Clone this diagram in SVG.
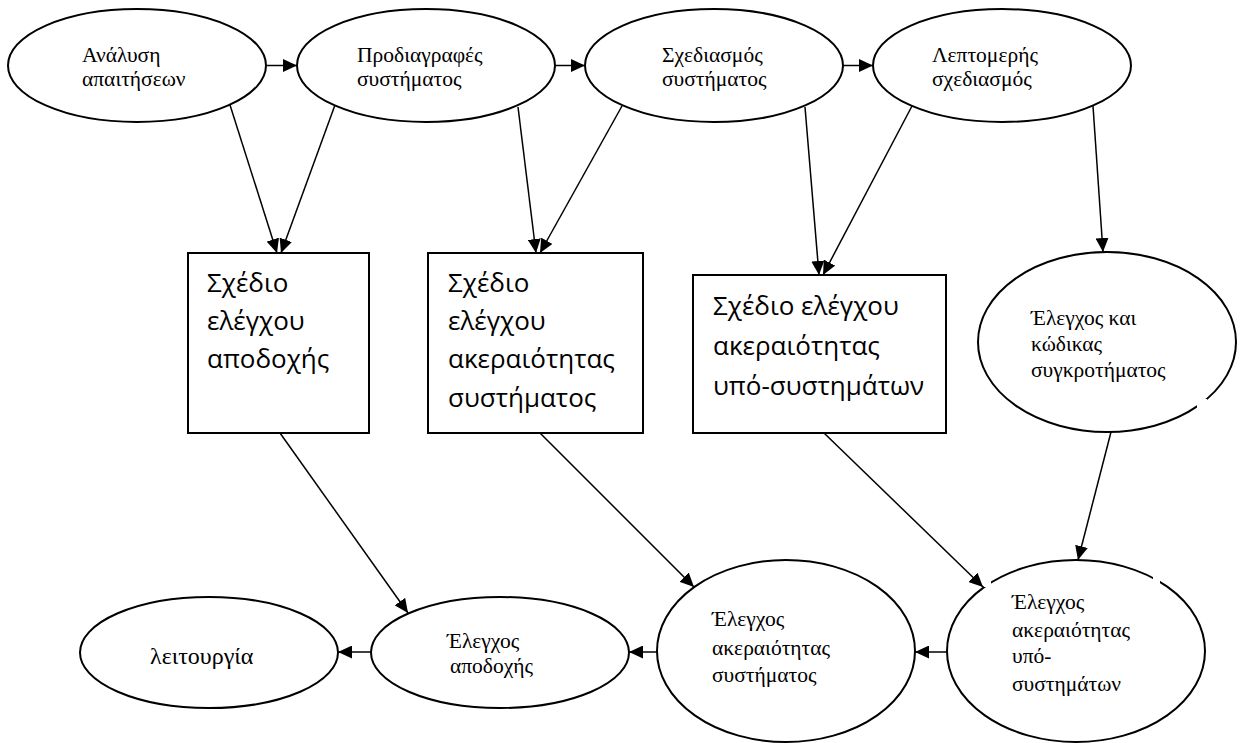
<svg xmlns="http://www.w3.org/2000/svg" width="1242" height="743" viewBox="0 0 1242 743">
  <style>
    .shape { fill: #ffffff; stroke: #000000; stroke-width: 2; }
    .edge { fill: none; stroke: #000000; stroke-width: 1.5; marker-end: url(#head); }
    .serif { font-family: "Liberation Serif", "Times New Roman", serif; font-size: 21.5px; fill: #000000; }
    .big { font-size: 24px; }
    .sans { font-family: "Open Sans", "Liberation Sans", sans-serif; font-size: 26px; fill: #000000; }
    .gap { fill: #ffffff; stroke: none; }
  </style>
  <defs>
    <marker id="head" viewBox="0 0 14 13" refX="14" refY="6.5" markerWidth="14" markerHeight="13" markerUnits="userSpaceOnUse" orient="auto">
      <path d="M0,0 L14,6.5 L0,13 z" fill="#000000"/>
    </marker>
  </defs>
  <rect width="1242" height="743" fill="#ffffff"/>

  <!-- connectors -->
  <g id="connectors">
    <line class="edge" x1="267" y1="65.5" x2="297" y2="65.5"/>
    <line class="edge" x1="555" y1="65.5" x2="585" y2="65.5"/>
    <line class="edge" x1="843" y1="65.5" x2="873" y2="65.5"/>

    <line class="edge" x1="230" y1="105" x2="277" y2="253"/>
    <line class="edge" x1="335" y1="105" x2="281" y2="253"/>
    <line class="edge" x1="518" y1="107" x2="536" y2="253"/>
    <line class="edge" x1="622" y1="106" x2="540" y2="253"/>
    <line class="edge" x1="805" y1="107" x2="819" y2="275"/>
    <line class="edge" x1="912" y1="106" x2="823" y2="275"/>
    <line class="edge" x1="1093" y1="106" x2="1103" y2="252"/>

    <line class="edge" x1="280" y1="433" x2="408" y2="613"/>
    <line class="edge" x1="540" y1="433" x2="694" y2="587"/>
    <line class="edge" x1="824" y1="433" x2="983" y2="587"/>
    <line class="edge" x1="1111" y1="432" x2="1078" y2="560"/>

    <line class="edge" x1="947" y1="652" x2="915" y2="652"/>
    <line class="edge" x1="657" y1="652" x2="629" y2="652"/>
    <line class="edge" x1="371" y1="652" x2="338" y2="652"/>
  </g>

  <!-- top row -->
  <g id="requirements-analysis">
    <ellipse class="shape" cx="137" cy="65.5" rx="129" ry="56.5"/>
    <text class="serif" x="82" y="62">Ανάλυση</text>
    <text class="serif" x="82" y="86">απαιτήσεων</text>
  </g>
  <g id="system-specification">
    <ellipse class="shape" cx="426" cy="65.5" rx="129" ry="56.5"/>
    <text class="serif" x="357" y="62">Προδιαγραφές</text>
    <text class="serif" x="357" y="86">συστήματος</text>
  </g>
  <g id="system-design">
    <ellipse class="shape" cx="714" cy="65.5" rx="129" ry="56.5"/>
    <text class="serif" x="662" y="62">Σχεδιασμός</text>
    <text class="serif" x="662" y="86">συστήματος</text>
  </g>
  <g id="detailed-design">
    <ellipse class="shape" cx="1002" cy="65.5" rx="129" ry="56.5"/>
    <text class="serif" x="932" y="62">Λεπτομερής</text>
    <text class="serif" x="932" y="86">σχεδιασμός</text>
  </g>

  <!-- test plans -->
  <g id="acceptance-test-plan">
    <rect class="shape" x="188" y="253" width="181" height="180"/>
    <text class="sans" x="207" y="292">Σχέδιο</text>
    <text class="sans" x="207" y="330">ελέγχου</text>
    <text class="sans" x="207" y="368">αποδοχής</text>
  </g>
  <g id="system-integration-test-plan">
    <rect class="shape" x="428" y="253" width="215" height="180"/>
    <text class="sans" x="448" y="292">Σχέδιο</text>
    <text class="sans" x="448" y="330">ελέγχου</text>
    <text class="sans" x="448" y="368">ακεραιότητας</text>
    <text class="sans" x="448" y="407">συστήματος</text>
  </g>
  <g id="subsystem-integration-test-plan">
    <rect class="shape" x="693" y="275" width="253" height="158"/>
    <text class="sans" x="713" y="315">Σχέδιο ελέγχου</text>
    <text class="sans" x="713" y="355">ακεραιότητας</text>
    <text class="sans" x="713" y="395">υπό-συστημάτων</text>
  </g>
  <g id="code-and-unit-test">
    <ellipse class="shape" cx="1107" cy="342" rx="129" ry="90"/>
    <rect class="gap" x="1197" y="399" width="10" height="11"/>
    <text class="serif" x="1031" y="325">Έλεγχος και</text>
    <text class="serif" x="1031" y="351">κώδικας</text>
    <text class="serif" x="1031" y="377">συγκροτήματος</text>
  </g>

  <!-- bottom row -->
  <g id="operation">
    <ellipse class="shape" cx="209" cy="652.5" rx="129" ry="55.5"/>
    <text class="serif big" x="150" y="664">λειτουργία</text>
  </g>
  <g id="acceptance-test">
    <ellipse class="shape" cx="500" cy="652.5" rx="129" ry="55.5"/>
    <text class="serif" x="447" y="648">Έλεγχος</text>
    <text class="serif" x="450" y="673">αποδοχής</text>
  </g>
  <g id="system-integration-test">
    <ellipse class="shape" cx="786" cy="651" rx="129" ry="91"/>
    <text class="serif" x="712" y="626">Έλεγχος</text>
    <text class="serif" x="712" y="655">ακεραιότητας</text>
    <text class="serif" x="712" y="682">συστήματος</text>
  </g>
  <g id="subsystem-integration-test">
    <ellipse class="shape" cx="1076" cy="651" rx="129" ry="91"/>
    <rect class="gap" x="984" y="578" width="7" height="9"/>
    <rect class="gap" x="1153" y="575" width="7" height="10"/>
    <text class="serif" x="1012" y="609">Έλεγχος</text>
    <text class="serif" x="1012" y="637">ακεραιότητας</text>
    <text class="serif" x="1012" y="663">υπό-</text>
    <text class="serif" x="1012" y="691">συστημάτων</text>
  </g>
</svg>
